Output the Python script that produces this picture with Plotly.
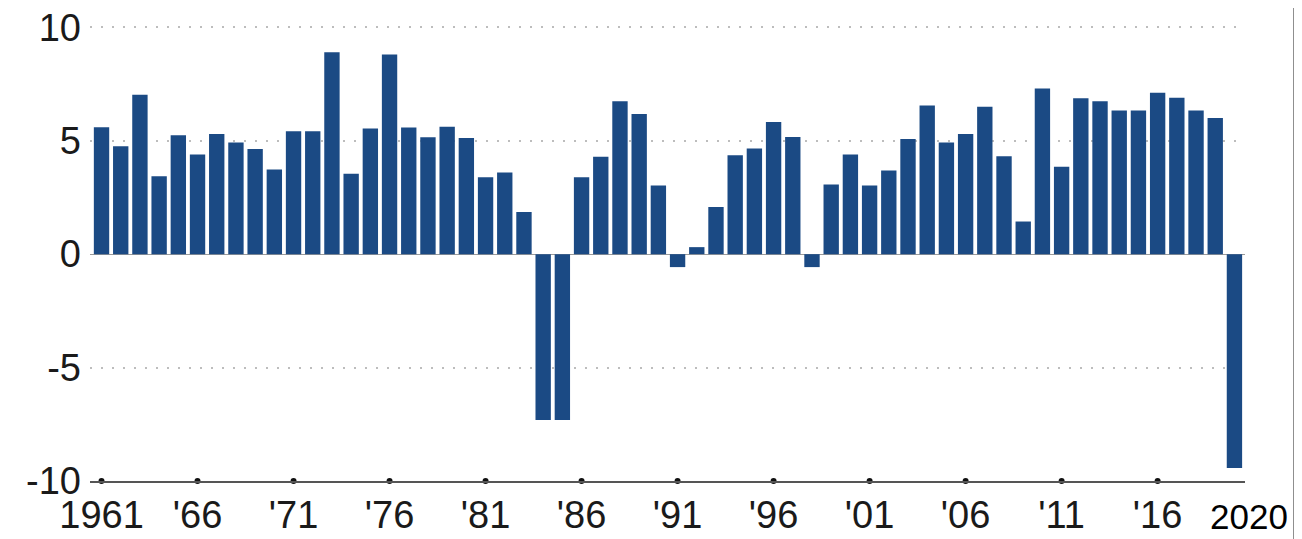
import plotly.graph_objects as go

years = list(range(1961, 2021))
growth = [5.59, 4.76, 7.03, 3.44, 5.24, 4.39, 5.30, 4.92, 4.64, 3.73,
          5.42, 5.42, 8.90, 3.54, 5.54, 8.80, 5.58, 5.15, 5.62, 5.12,
          3.39, 3.60, 1.86, -7.31, -7.31, 3.39, 4.29, 6.74, 6.18, 3.03,
          -0.57, 0.31, 2.08, 4.36, 4.66, 5.83, 5.17, -0.57, 3.07, 4.39,
          3.03, 3.69, 5.08, 6.55, 4.92, 5.30, 6.50, 4.32, 1.44, 7.30,
          3.85, 6.87, 6.74, 6.33, 6.33, 7.12, 6.90, 6.33, 6.00, -9.43]
tick_years = [1961, 1966, 1971, 1976, 1981, 1986, 1991, 1996, 2001, 2006, 2011, 2016]
tick_labels = ["1961", "'66", "'71", "'76", "'81", "'86", "'91", "'96", "'01", "'06", "'11", "'16"]
y_ticks = [-10, -5, 0, 5, 10]
y_labels = ["-10", "-5", "0", "5", "10"]
last_label = "2020"

BAR = "#1b4a84"
FONT = "Liberation Sans, Arial, sans-serif"

fig = go.Figure()
fig.add_trace(go.Bar(x=years, y=growth, marker=dict(color=BAR, line=dict(width=0)),
                     showlegend=False))
fig.add_trace(go.Scatter(x=tick_years, y=[y_ticks[0]] * len(tick_years), mode="markers",
                         marker=dict(color="#111111", size=6), cliponaxis=False,
                         showlegend=False, hoverinfo="skip"))

fig.update_layout(
    width=1294, height=531,
    margin=dict(l=82, r=57, t=8, b=58, autoexpand=False),
    paper_bgcolor="white", plot_bgcolor="white",
    bargap=0.2,
    font=dict(family=FONT, size=38, color="#1a1a1a"),
    xaxis=dict(range=[1960.4, 2020.55], tickmode="array", tickvals=tick_years,
               ticktext=tick_labels, showgrid=False, zeroline=False, automargin=False,
               showline=True, linecolor="#555555", linewidth=1.5,
               ticks="", ticklabelstandoff=0, ticklabeloverflow="allow",
               tickfont=dict(family=FONT, size=38, color="#1a1a1a")),
    yaxis=dict(range=[-10, 10.5], tickmode="array", tickvals=y_ticks, ticktext=y_labels,
               showgrid=True, gridcolor="#bdbdbd", gridwidth=1.5, griddash="2px,9px",
               zeroline=True, zerolinecolor="#9a9a9a", zerolinewidth=1, automargin=False,
               showline=False, ticks="", ticklabelstandoff=8, ticklabeloverflow="allow",
               tickfont=dict(family=FONT, size=38, color="#1a1a1a")),
    annotations=[dict(x=years[-1], y=0, xref="x", yref="paper", text=last_label,
                      showarrow=False, xanchor="center", yanchor="top",
                      xshift=15, yshift=-14,
                      font=dict(family=FONT, size=35, color="#000000"))],
    shapes=[dict(type="rect", xref="paper", yref="paper", x0=1.0416, x1=1.08,
                 y0=-0.2, y1=1.1, fillcolor="#8a8a8a", line=dict(width=0), layer="above")],
)

fig.write_html("out.html")
